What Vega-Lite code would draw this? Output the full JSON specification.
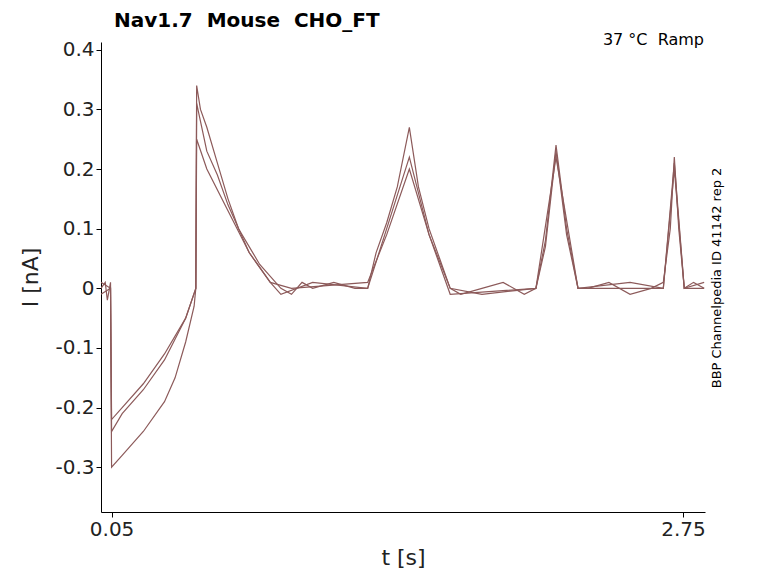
{"$schema":"https://vega.github.io/schema/vega-lite/v6.json","width":604,"height":470,"padding":{"left":101,"top":42,"right":73,"bottom":71},"autosize":"none","background":"white",
"data":{"values":[
{"t":0,"I":0,"s":"A"},{"t":0.02,"I":0.01,"s":"A"},{"t":0.03,"I":-0.02,"s":"A"},{"t":0.045,"I":0.01,"s":"A"},{"t":0.05,"I":-0.3,"s":"A"},{"t":0.1,"I":-0.28,"s":"A"},{"t":0.2,"I":-0.24,"s":"A"},{"t":0.3,"I":-0.19,"s":"A"},{"t":0.35,"I":-0.15,"s":"A"},{"t":0.4,"I":-0.09,"s":"A"},{"t":0.44,"I":-0.03,"s":"A"},{"t":0.448,"I":0,"s":"A"},{"t":0.452,"I":0.34,"s":"A"},{"t":0.47,"I":0.3,"s":"A"},{"t":0.5,"I":0.27,"s":"A"},{"t":0.55,"I":0.21,"s":"A"},{"t":0.6,"I":0.15,"s":"A"},{"t":0.65,"I":0.1,"s":"A"},{"t":0.7,"I":0.07,"s":"A"},{"t":0.75,"I":0.04,"s":"A"},{"t":0.8,"I":0.02,"s":"A"},{"t":0.85,"I":0,"s":"A"},{"t":0.9,"I":-0.01,"s":"A"},{"t":0.95,"I":0.01,"s":"A"},{"t":1.0,"I":0,"s":"A"},{"t":1.1,"I":0.01,"s":"A"},{"t":1.2,"I":0,"s":"A"},{"t":1.26,"I":0,"s":"A"},{"t":1.3,"I":0.06,"s":"A"},{"t":1.35,"I":0.11,"s":"A"},{"t":1.4,"I":0.17,"s":"A"},{"t":1.457,"I":0.27,"s":"A"},{"t":1.5,"I":0.17,"s":"A"},{"t":1.55,"I":0.1,"s":"A"},{"t":1.6,"I":0.05,"s":"A"},{"t":1.65,"I":0,"s":"A"},{"t":1.7,"I":-0.01,"s":"A"},{"t":1.8,"I":0,"s":"A"},{"t":1.9,"I":0.01,"s":"A"},{"t":2.0,"I":-0.01,"s":"A"},{"t":2.055,"I":0,"s":"A"},{"t":2.1,"I":0.08,"s":"A"},{"t":2.15,"I":0.24,"s":"A"},{"t":2.2,"I":0.1,"s":"A"},{"t":2.254,"I":0,"s":"A"},{"t":2.3,"I":0,"s":"A"},{"t":2.4,"I":0.01,"s":"A"},{"t":2.5,"I":-0.01,"s":"A"},{"t":2.6,"I":0,"s":"A"},{"t":2.657,"I":0.01,"s":"A"},{"t":2.69,"I":0.1,"s":"A"},{"t":2.709,"I":0.22,"s":"A"},{"t":2.73,"I":0.1,"s":"A"},{"t":2.756,"I":0,"s":"A"},{"t":2.8,"I":0.01,"s":"A"},{"t":2.85,"I":0,"s":"A"},
{"t":0,"I":0.01,"s":"B"},{"t":0.045,"I":0,"s":"B"},{"t":0.05,"I":-0.24,"s":"B"},{"t":0.1,"I":-0.21,"s":"B"},{"t":0.2,"I":-0.17,"s":"B"},{"t":0.3,"I":-0.12,"s":"B"},{"t":0.4,"I":-0.05,"s":"B"},{"t":0.448,"I":0,"s":"B"},{"t":0.452,"I":0.31,"s":"B"},{"t":0.5,"I":0.23,"s":"B"},{"t":0.55,"I":0.19,"s":"B"},{"t":0.6,"I":0.14,"s":"B"},{"t":0.7,"I":0.06,"s":"B"},{"t":0.8,"I":0.01,"s":"B"},{"t":0.85,"I":-0.01,"s":"B"},{"t":1.0,"I":0.01,"s":"B"},{"t":1.26,"I":0,"s":"B"},{"t":1.35,"I":0.1,"s":"B"},{"t":1.457,"I":0.22,"s":"B"},{"t":1.55,"I":0.09,"s":"B"},{"t":1.65,"I":0,"s":"B"},{"t":1.8,"I":-0.01,"s":"B"},{"t":2.055,"I":0,"s":"B"},{"t":2.1,"I":0.07,"s":"B"},{"t":2.15,"I":0.23,"s":"B"},{"t":2.2,"I":0.09,"s":"B"},{"t":2.254,"I":0,"s":"B"},{"t":2.5,"I":0.01,"s":"B"},{"t":2.657,"I":0,"s":"B"},{"t":2.709,"I":0.21,"s":"B"},{"t":2.756,"I":0,"s":"B"},{"t":2.85,"I":0.01,"s":"B"},
{"t":0,"I":-0.01,"s":"C"},{"t":0.045,"I":0,"s":"C"},{"t":0.05,"I":-0.22,"s":"C"},{"t":0.1,"I":-0.2,"s":"C"},{"t":0.2,"I":-0.16,"s":"C"},{"t":0.3,"I":-0.11,"s":"C"},{"t":0.4,"I":-0.05,"s":"C"},{"t":0.448,"I":0,"s":"C"},{"t":0.452,"I":0.25,"s":"C"},{"t":0.5,"I":0.2,"s":"C"},{"t":0.6,"I":0.13,"s":"C"},{"t":0.7,"I":0.06,"s":"C"},{"t":0.8,"I":0.01,"s":"C"},{"t":0.9,"I":0,"s":"C"},{"t":1.26,"I":0.01,"s":"C"},{"t":1.35,"I":0.09,"s":"C"},{"t":1.457,"I":0.2,"s":"C"},{"t":1.55,"I":0.09,"s":"C"},{"t":1.65,"I":-0.01,"s":"C"},{"t":2.055,"I":0,"s":"C"},{"t":2.15,"I":0.22,"s":"C"},{"t":2.254,"I":0,"s":"C"},{"t":2.657,"I":0,"s":"C"},{"t":2.709,"I":0.2,"s":"C"},{"t":2.756,"I":0,"s":"C"},{"t":2.85,"I":0,"s":"C"}
]},
"layer":[
{"mark":{"type":"line","color":"#8c5a5a","strokeWidth":1.2,"clip":true},
"encoding":{"x":{"field":"t","type":"quantitative","scale":{"domain":[0,2.854],"nice":false,"zero":false},"axis":{"values":[0.05,2.75],"format":".2f","title":"t [s]","titleFontSize":22,"titleFontWeight":"normal","labelFontSize":20,"labelFont":"DejaVu Sans","titleFont":"DejaVu Sans","grid":false,"domainColor":"#000","tickColor":"#000","labelColor":"#222","titleColor":"#222","titlePadding":8,"labelFlush":false}},
"y":{"field":"I","type":"quantitative","scale":{"domain":[-0.375,0.413],"nice":false,"zero":false},"axis":{"values":[-0.3,-0.2,-0.1,0,0.1,0.2,0.3,0.4],"labelExpr":"replace(format(datum.value,'~g'),'\u2212','-')","title":"I [nA]","titleFontSize":22,"titleFontWeight":"normal","labelFontSize":20,"labelFont":"DejaVu Sans","titleFont":"DejaVu Sans","grid":false,"domainColor":"#000","tickColor":"#000","labelColor":"#222","titleColor":"#222","titlePadding":12}},
"detail":{"field":"s"}}},
{"data":{"values":[{}]},"mark":{"type":"text","text":"Nav1.7\u00a0\u00a0Mouse\u00a0\u00a0CHO_FT","fontSize":20,"font":"DejaVu Sans","fontWeight":"bold","color":"#000","align":"left","baseline":"alphabetic","x":13,"y":-15},"encoding":{}},
{"data":{"values":[{}]},"mark":{"type":"text","text":"37 °C\u00a0\u00a0Ramp","fontSize":16,"font":"DejaVu Sans","color":"#000","align":"right","baseline":"top","x":603,"y":-10},"encoding":{}},
{"data":{"values":[{}]},"mark":{"type":"text","text":"BBP Channelpedia ID 41142 rep 2","fontSize":13,"font":"DejaVu Sans","color":"#000","angle":270,"align":"center","baseline":"middle","x":616,"y":236},"encoding":{}}
],
"config":{"view":{"stroke":null}}}
